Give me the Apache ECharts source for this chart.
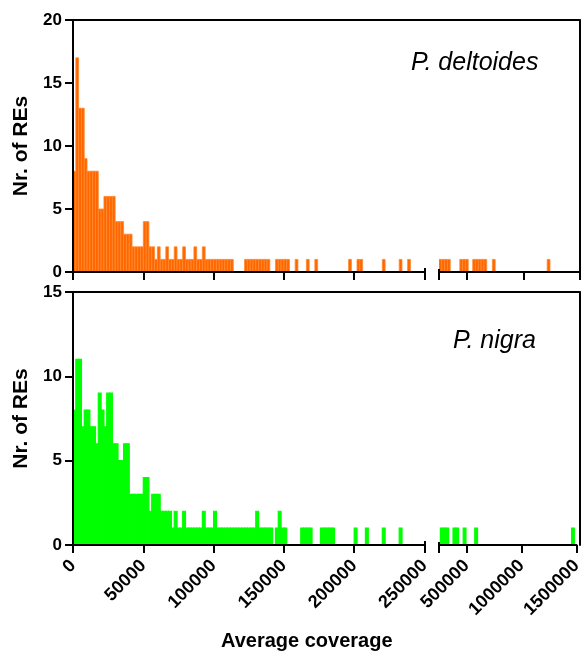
<!DOCTYPE html>
<html>
<head>
<meta charset="utf-8">
<script src="https://cdn.jsdelivr.net/npm/echarts@6/dist/echarts.min.js"></script>
<style>
  html, body { margin: 0; padding: 0; background: #fff; }
  #chart { width: 585px; height: 653px; }
</style>
</head>
<body>
<div id="chart"></div>
<script>
// histogram bins of 2000 on the 0-250000 part of the axis
var BIN_WIDTH = 2000;
// bars on the 250000-1500000 part
var TAIL_BIN_WIDTH = 25000;

var deltoidesCounts = [
    8, 17, 13, 13, 9, 8, 8, 8, 8, 5,
    5, 6, 6, 6, 6, 4, 4, 4, 3, 3,
    3, 2, 2, 2, 2, 4, 4, 2, 2, 1,
    2, 1, 1, 2, 1, 1, 2, 1, 1, 2,
    1, 1, 1, 2, 1, 1, 2, 1, 1, 1,
    1, 1, 1, 1, 1, 1, 1, 0, 0, 0,
    0, 1, 1, 1, 1, 1, 1, 1, 1, 1,
    0, 0, 1, 1, 1, 1, 1, 0, 0, 1,
    0, 0, 0, 1, 0, 0, 1, 0, 0, 0,
    0, 0, 0, 0, 0, 0, 0, 0, 1, 0,
    0, 1, 1, 0, 0, 0, 0, 0, 0, 0,
    1, 0, 0, 0, 0, 0, 1, 0, 0, 1,
    0, 0, 0, 0, 0
];
var deltoidesTailStarts = [250000, 275000, 300000, 325000, 435000, 460000, 485000,
    550000, 575000, 600000, 625000, 650000, 725000, 1212500];
var deltoidesTailCounts = [1, 1, 1, 1, 1, 1, 1, 1, 1, 1, 1, 1, 1, 1];

var nigraCounts = [
    8, 11, 11, 7, 8, 8, 7, 7, 6, 9,
    8, 7, 9, 9, 6, 6, 5, 5, 6, 6,
    3, 3, 3, 3, 3, 4, 4, 2, 3, 3,
    3, 2, 2, 2, 2, 1, 2, 1, 1, 2,
    1, 1, 1, 1, 1, 1, 2, 1, 1, 1,
    2, 1, 1, 1, 1, 1, 1, 1, 1, 1,
    1, 1, 1, 1, 1, 2, 1, 1, 1, 1,
    1, 0, 1, 2, 1, 1, 0, 0, 0, 0,
    0, 1, 1, 1, 1, 0, 0, 0, 1, 1,
    1, 1, 1, 0, 0, 0, 0, 0, 0, 0,
    1, 0, 0, 0, 1, 0, 0, 0, 0, 0,
    1, 0, 0, 0, 0, 0, 1, 0, 0, 0,
    0, 0, 0, 0, 0
];
var nigraTailStarts = [262500, 287500, 312500, 377500, 402500, 470000, 575000, 1455000];
var nigraTailCounts = [1, 1, 1, 1, 1, 1, 1, 1];

var rightTicks = [500000, 1000000, 1500000];
var speciesNames = ['P. deltoides', 'P. nigra'];

var FONT = "'Liberation Sans', Arial, sans-serif";

function binData(counts) {
    var out = [];
    counts.forEach(function (c, i) {
        if (c > 0) out.push([i * BIN_WIDTH, c]);
    });
    return out;
}

function tailData(starts, counts) {
    return starts.map(function (s, i) { return [s, counts[i]]; });
}

// one rectangle per bin: [start, count]
function binRect(width) {
    return function (params, api) {
        var start = api.value(0);
        var top = api.coord([start, api.value(1)]);
        var base = api.coord([start + width, 0]);
        return {
            type: 'rect',
            shape: { x: top[0], y: top[1], width: base[0] - top[0], height: base[1] - top[1] },
            style: api.style()
        };
    };
}

function plain(v) { return String(v); }

var chart = echarts.init(document.getElementById('chart'));

var panels = [{ top: 20, height: 252, max: 20 }, { top: 292, height: 253, max: 15 }];
var LEFT = 73, LEFT_W = 351.5, RIGHT = 439, RIGHT_W = 140.5;

var grid = [], xAxis = [], yAxis = [];
var axisLine = { show: true, onZero: false, lineStyle: { color: '#000', width: 2 } };
var tickLabel = { color: '#000', fontFamily: FONT, fontWeight: 'bold', formatter: plain };

panels.forEach(function (p, k) {
    var last = k === panels.length - 1;
    grid.push({ left: LEFT, top: p.top, width: LEFT_W, height: p.height });
    grid.push({ left: RIGHT, top: p.top, width: RIGHT_W, height: p.height });
    var g = k * 2;

    xAxis.push({
        type: 'value', gridIndex: g, min: 0, max: 250000, interval: 50000, z: 10,
        axisLine: axisLine,
        axisTick: { show: true, length: 8, lineStyle: { color: '#000', width: 2 } },
        axisLabel: Object.assign({ show: last, rotate: 45, margin: 18, fontSize: 18 }, tickLabel),
        splitLine: { show: false }
    });
    xAxis.push({
        type: 'value', gridIndex: g + 1, min: 250000, max: 1500000, z: 10,
        axisLine: axisLine,
        axisTick: { show: true, length: 8, customValues: [250000].concat(rightTicks),
            lineStyle: { color: '#000', width: 2 } },
        axisLabel: Object.assign({ show: last, rotate: 45, margin: 18, fontSize: 18,
            customValues: rightTicks }, tickLabel),
        splitLine: { show: false }
    });
    // break marks: short inner ticks at both sides of the gap
    xAxis.push({
        type: 'value', gridIndex: g, min: 0, max: 250000, position: 'bottom', z: 10,
        axisLine: { show: false, onZero: false },
        axisTick: { show: true, inside: true, length: 4, customValues: [250000],
            lineStyle: { color: '#000', width: 2 } },
        axisLabel: { show: false }, splitLine: { show: false }
    });
    xAxis.push({
        type: 'value', gridIndex: g + 1, min: 250000, max: 1500000, position: 'bottom', z: 10,
        axisLine: { show: false, onZero: false },
        axisTick: { show: true, inside: true, length: 3, customValues: [250000],
            lineStyle: { color: '#000', width: 2 } },
        axisLabel: { show: false }, splitLine: { show: false }
    });

    yAxis.push({
        type: 'value', gridIndex: g, min: 0, max: p.max, interval: 5, z: 10,
        name: 'Nr. of REs', nameLocation: 'middle', nameGap: 41,
        nameTextStyle: { color: '#000', fontFamily: FONT, fontWeight: 'bold', fontSize: 21 },
        axisLine: axisLine,
        axisTick: { show: true, length: 8, lineStyle: { color: '#000', width: 2 } },
        axisLabel: Object.assign({ margin: 11, fontSize: 17 }, tickLabel),
        splitLine: { show: false }
    });
    yAxis.push({ type: 'value', gridIndex: g + 1, min: 0, max: p.max, show: false });
});

// frame: top and right border over the whole panel
panels.forEach(function (p) {
    grid.push({ left: LEFT, top: p.top, width: RIGHT + RIGHT_W - LEFT, height: p.height });
    var g = grid.length - 1;
    xAxis.push({
        type: 'value', gridIndex: g, min: 0, max: 1, position: 'top', z: 10,
        axisLine: axisLine, axisTick: { show: false }, axisLabel: { show: false }, splitLine: { show: false }
    });
    yAxis.push({
        type: 'value', gridIndex: g, min: 0, max: 1, position: 'right', z: 10,
        axisLine: axisLine, axisTick: { show: false }, axisLabel: { show: false }, splitLine: { show: false }
    });
});

var orange = { color: '#FF6600', borderColor: '#FF8A2E', borderWidth: 0.8 };
var green = { color: '#00FF00', borderColor: '#00FF00', borderWidth: 1.2 };

function histSeries(data, width, xi, yi, style) {
    return {
        type: 'custom', xAxisIndex: xi, yAxisIndex: yi, clip: true, z: 2,
        renderItem: binRect(width), itemStyle: style,
        encode: { x: 0, y: 1 }, data: data, silent: true
    };
}

chart.setOption({
    animation: false,
    title: [
        { text: speciesNames[0], left: 406, top: 46,
          textStyle: { fontFamily: FONT, fontStyle: 'italic', fontWeight: 'normal', fontSize: 25, color: '#000' } },
        { text: speciesNames[1], left: 448, top: 324,
          textStyle: { fontFamily: FONT, fontStyle: 'italic', fontWeight: 'normal', fontSize: 25, color: '#000' } },
        { text: 'Average coverage', left: 216, top: 626,
          textStyle: { fontFamily: FONT, fontWeight: 'bold', fontSize: 20, color: '#000' } }
    ],
    grid: grid,
    xAxis: xAxis,
    yAxis: yAxis,
    series: [
        histSeries(binData(deltoidesCounts), BIN_WIDTH, 0, 0, orange),
        histSeries(tailData(deltoidesTailStarts, deltoidesTailCounts), TAIL_BIN_WIDTH, 1, 1, orange),
        histSeries(binData(nigraCounts), BIN_WIDTH, 4, 2, green),
        histSeries(tailData(nigraTailStarts, nigraTailCounts), TAIL_BIN_WIDTH, 5, 3, green)
    ]
});
</script>
</body>
</html>
